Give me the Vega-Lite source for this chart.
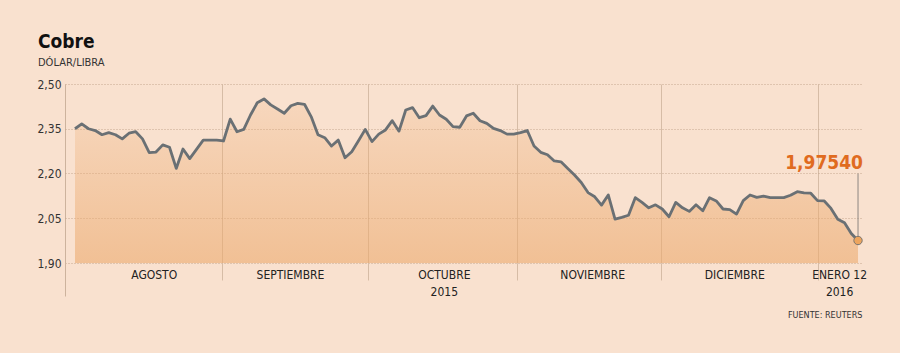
{
  "$schema": "https://vega.github.io/schema/vega-lite/v6.json",
  "width": 797,
  "height": 179,
  "autosize": {"type": "none"},
  "padding": {"left": 65, "top": 84, "right": 38, "bottom": 90},
  "background": "#f9e1cf",
  "config": {
    "view": {"stroke": null},
    "font": "DejaVu Sans Condensed",
    "locale": {"number": {"decimal": ",", "thousands": ".", "grouping": [3], "currency": ["", " €"]}}
  },
  "title": {
    "text": "Cobre",
    "subtitle": "DÓLAR/LIBRA",
    "anchor": "start",
    "frame": "group",
    "dx": -27,
    "offset": 10,
    "font": "DejaVu Sans Condensed",
    "fontSize": 19,
    "fontWeight": "bold",
    "color": "#111111",
    "subtitleFont": "DejaVu Sans Condensed",
    "subtitleFontSize": 11,
    "subtitleColor": "#333333",
    "subtitlePadding": 5
  },
  "data": {
    "values": [
      {"i": 0, "precio": 2.350}, {"i": 1, "precio": 2.366}, {"i": 2, "precio": 2.350}, {"i": 3, "precio": 2.344},
      {"i": 4, "precio": 2.330}, {"i": 5, "precio": 2.337}, {"i": 6, "precio": 2.330}, {"i": 7, "precio": 2.316},
      {"i": 8, "precio": 2.335}, {"i": 9, "precio": 2.340}, {"i": 10, "precio": 2.316}, {"i": 11, "precio": 2.270},
      {"i": 12, "precio": 2.272}, {"i": 13, "precio": 2.296}, {"i": 14, "precio": 2.288}, {"i": 15, "precio": 2.217},
      {"i": 16, "precio": 2.282}, {"i": 17, "precio": 2.250}, {"i": 18, "precio": 2.281}, {"i": 19, "precio": 2.312},
      {"i": 20, "precio": 2.312}, {"i": 21, "precio": 2.312}, {"i": 22, "precio": 2.309}, {"i": 23, "precio": 2.382},
      {"i": 24, "precio": 2.340}, {"i": 25, "precio": 2.348}, {"i": 26, "precio": 2.396}, {"i": 27, "precio": 2.437},
      {"i": 28, "precio": 2.450}, {"i": 29, "precio": 2.430}, {"i": 30, "precio": 2.416}, {"i": 31, "precio": 2.402},
      {"i": 32, "precio": 2.427}, {"i": 33, "precio": 2.435}, {"i": 34, "precio": 2.432}, {"i": 35, "precio": 2.390},
      {"i": 36, "precio": 2.330}, {"i": 37, "precio": 2.320}, {"i": 38, "precio": 2.292}, {"i": 39, "precio": 2.312},
      {"i": 40, "precio": 2.253}, {"i": 41, "precio": 2.273}, {"i": 42, "precio": 2.310}, {"i": 43, "precio": 2.348},
      {"i": 44, "precio": 2.307}, {"i": 45, "precio": 2.332}, {"i": 46, "precio": 2.346}, {"i": 47, "precio": 2.377},
      {"i": 48, "precio": 2.342}, {"i": 49, "precio": 2.413}, {"i": 50, "precio": 2.421}, {"i": 51, "precio": 2.387},
      {"i": 52, "precio": 2.394}, {"i": 53, "precio": 2.426}, {"i": 54, "precio": 2.396}, {"i": 55, "precio": 2.382},
      {"i": 56, "precio": 2.357}, {"i": 57, "precio": 2.355}, {"i": 58, "precio": 2.393}, {"i": 59, "precio": 2.402},
      {"i": 60, "precio": 2.377}, {"i": 61, "precio": 2.368}, {"i": 62, "precio": 2.351}, {"i": 63, "precio": 2.344},
      {"i": 64, "precio": 2.332}, {"i": 65, "precio": 2.332}, {"i": 66, "precio": 2.337}, {"i": 67, "precio": 2.344},
      {"i": 68, "precio": 2.292}, {"i": 69, "precio": 2.271}, {"i": 70, "precio": 2.263}, {"i": 71, "precio": 2.242},
      {"i": 72, "precio": 2.239}, {"i": 73, "precio": 2.217}, {"i": 74, "precio": 2.195}, {"i": 75, "precio": 2.170},
      {"i": 76, "precio": 2.136}, {"i": 77, "precio": 2.122}, {"i": 78, "precio": 2.094}, {"i": 79, "precio": 2.128},
      {"i": 80, "precio": 2.047}, {"i": 81, "precio": 2.053}, {"i": 82, "precio": 2.060}, {"i": 83, "precio": 2.119},
      {"i": 84, "precio": 2.103}, {"i": 85, "precio": 2.085}, {"i": 86, "precio": 2.095}, {"i": 87, "precio": 2.081},
      {"i": 88, "precio": 2.055}, {"i": 89, "precio": 2.103}, {"i": 90, "precio": 2.085}, {"i": 91, "precio": 2.073},
      {"i": 92, "precio": 2.095}, {"i": 93, "precio": 2.075}, {"i": 94, "precio": 2.119}, {"i": 95, "precio": 2.108},
      {"i": 96, "precio": 2.081}, {"i": 97, "precio": 2.079}, {"i": 98, "precio": 2.064}, {"i": 99, "precio": 2.109},
      {"i": 100, "precio": 2.128}, {"i": 101, "precio": 2.120}, {"i": 102, "precio": 2.124}, {"i": 103, "precio": 2.119},
      {"i": 104, "precio": 2.119}, {"i": 105, "precio": 2.119}, {"i": 106, "precio": 2.127}, {"i": 107, "precio": 2.139},
      {"i": 108, "precio": 2.135}, {"i": 109, "precio": 2.134}, {"i": 110, "precio": 2.109}, {"i": 111, "precio": 2.108},
      {"i": 112, "precio": 2.083}, {"i": 113, "precio": 2.047}, {"i": 114, "precio": 2.035}, {"i": 115, "precio": 1.999},
      {"i": 116, "precio": 1.9754}
    ]
  },
  "encoding": {
    "y": {
      "field": "precio",
      "type": "quantitative",
      "scale": {"domain": [1.9, 2.5], "nice": false, "zero": false},
      "axis": {
        "values": [1.9, 2.05, 2.2, 2.35, 2.5],
        "format": ".2f",
        "domain": false,
        "ticks": false,
        "grid": true,
        "gridDash": [1, 2],
        "gridColor": "#c4a68e",
        "gridWidth": 1,
        "labelPadding": 4,
        "labelFont": "DejaVu Sans Condensed",
        "labelFontSize": 12,
        "labelColor": "#333333",
        "title": null
      }
    }
  },
  "layer": [
    {
      "mark": {
        "type": "area",
        "color": {
          "gradient": "linear",
          "x1": 0, "y1": 0, "x2": 0, "y2": 1,
          "stops": [
            {"offset": 0, "color": "rgba(236,170,110,0.18)"},
            {"offset": 1, "color": "rgba(236,170,110,0.6)"}
          ]
        }
      },
      "encoding": {
        "x": {
          "field": "i",
          "type": "quantitative",
          "scale": {"domain": [-1.48, 116.59], "nice": false, "zero": false},
          "axis": {
            "orient": "bottom",
            "values": [21.73, 43.36, 65.44, 86.77, 110.03],
            "grid": true,
            "gridColor": "#d6bca6",
            "gridWidth": 1,
            "ticks": true,
            "tickSize": 17,
            "tickColor": "#d6bca6",
            "labels": false,
            "domain": false,
            "title": null
          }
        },
        "y2": {"datum": 1.9}
      }
    },
    {
      "mark": {"type": "line", "color": "#6a7074", "strokeWidth": 2.8, "strokeJoin": "round"},
      "encoding": {
        "x": {
          "field": "i",
          "type": "quantitative",
          "scale": {"domain": [-1.48, 116.59], "nice": false, "zero": false},
          "axis": {
            "orient": "bottom",
            "values": [11.66, 31.85, 54.64, 76.62, 97.66, 113.2],
            "grid": false,
            "ticks": false,
            "tickSize": 0,
            "domain": false,
            "labelExpr": "datum.value < 20 ? 'AGOSTO' : datum.value < 40 ? 'SEPTIEMBRE' : datum.value < 60 ? ['OCTUBRE', '2015'] : datum.value < 85 ? 'NOVIEMBRE' : datum.value < 105 ? 'DICIEMBRE' : ['ENERO 12', '2016']",
            "labelFont": "DejaVu Sans Condensed",
            "labelFontSize": 12,
            "labelColor": "#222222",
            "labelPadding": 6,
            "labelLineHeight": 17,
            "labelFlush": false,
            "labelOverlap": false,
            "title": "FUENTE: REUTERS",
            "titleAnchor": "end",
            "titleFont": "DejaVu Sans Condensed",
            "titleFontSize": 9,
            "titleFontWeight": "normal",
            "titleColor": "#333333",
            "titlePadding": 13
          }
        }
      }
    },
    {
      "transform": [{"filter": "datum.i == 116"}],
      "mark": {"type": "rule", "color": "#8e8782", "strokeWidth": 1},
      "encoding": {
        "x": {
          "field": "i",
          "type": "quantitative",
          "scale": {"domain": [-1.48, 116.59], "nice": false, "zero": false},
          "axis": {
            "orient": "bottom",
            "values": [-1.48],
            "grid": true,
            "gridColor": "#cdb39d",
            "gridWidth": 1,
            "ticks": true,
            "tickSize": 33,
            "tickColor": "#cdb39d",
            "labels": false,
            "domain": false,
            "title": null
          }
        },
        "y2": {"datum": 2.2}
      }
    },
    {
      "transform": [{"filter": "datum.i == 116"}],
      "mark": {"type": "circle", "size": 70, "color": "#eda55e", "opacity": 1, "stroke": "#7a7570", "strokeWidth": 1},
      "encoding": {
        "x": {"field": "i", "type": "quantitative", "scale": {"domain": [-1.48, 116.59], "nice": false, "zero": false}, "axis": null}
      }
    },
    {
      "transform": [{"filter": "datum.i == 116"}],
      "mark": {"type": "text", "align": "right", "baseline": "alphabetic", "dx": 5, "dy": -72, "font": "DejaVu Sans Condensed", "fontSize": 19, "fontWeight": "bold", "color": "#e06b1f"},
      "encoding": {
        "x": {"field": "i", "type": "quantitative", "scale": {"domain": [-1.48, 116.59], "nice": false, "zero": false}, "axis": null},
        "text": {"field": "precio", "type": "quantitative", "format": ".5f"}
      }
    }
  ],
  "resolve": {"axis": {"x": "independent"}}
}
